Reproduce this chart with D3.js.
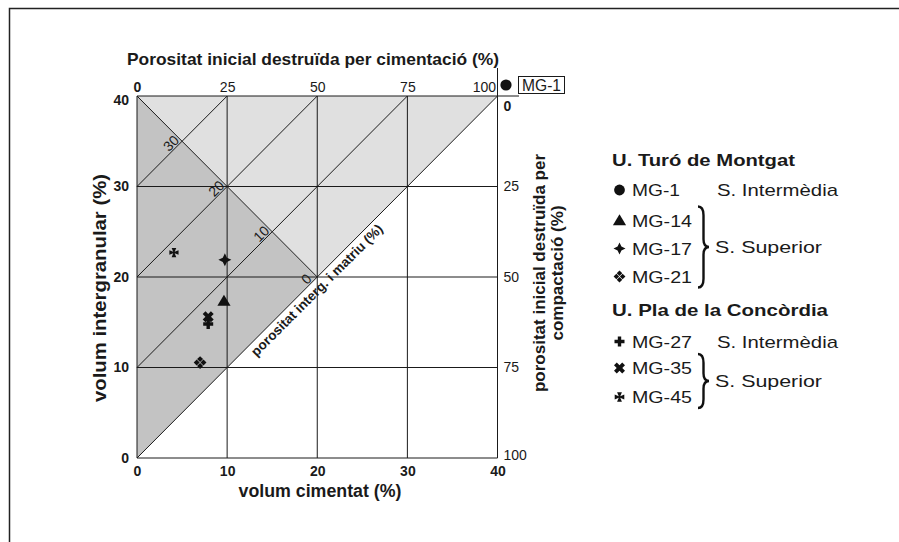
<!DOCTYPE html>
<html><head><meta charset="utf-8">
<script src="https://cdn.jsdelivr.net/npm/d3@7/dist/d3.min.js"></script>
<style>
body{margin:0;background:#fff;}
svg{display:block;font-family:"Liberation Sans",Arial,Helvetica,sans-serif;}
</style></head><body>
<svg id="chart" width="899" height="542"></svg>
<script>
// ---------- data ----------
const samples = ["MG-1", "MG-14", "MG-17", "MG-21", "MG-27", "MG-35", "MG-45"];
const shapes = ["circle", "triangle", "star4", "diamonds", "plus", "cross", "maltese"];
const cementVolume = [null, 9.65, 9.75, 7.0, 7.9, 7.9, 4.1];          // volum cimentat (%)
const intergranularVolume = [null, 17.35, 21.9, 10.55, 14.8, 15.6, 22.7]; // volum intergranular (%)
const unitNames = ["U. Turó de Montgat", "U. Pla de la Concòrdia"];
const sampleUnit = [0, 0, 0, 0, 1, 1, 1];
const subunitNames = ["S. Intermèdia", "S. Superior"];
const sampleSubunit = [0, 1, 1, 1, 0, 1, 1];
const xTicks = [0, 10, 20, 30, 40];
const yTicks = [0, 10, 20, 30, 40];
const topTicks = [0, 25, 50, 75, 100];
const rightTicks = [0, 25, 50, 75, 100];
const porosityContours = [0, 10, 20, 30];
const initialPorosity = 40;
const gridValues = [10, 20, 30];

// ---------- layout ----------
const svg = d3.select("#chart");
const x = d3.scaleLinear().domain([0, 40]).range([137, 497.5]);
const y = d3.scaleLinear().domain([0, 40]).range([458, 96]);
const xTop = d3.scaleLinear().domain([0, 100]).range([137, 497.5]);
const yRight = d3.scaleLinear().domain([0, 100]).range([96, 458]);
const ink = "#1a1a1a";

// page frame
svg.append("path").attr("d", "M9.5,542V8.5H899").attr("fill", "none").attr("stroke", "#222").attr("stroke-width", 1.5);

const line = d3.line().x(d => x(d[0])).y(d => y(d[1]));

// shaded regions
const P = initialPorosity;
svg.append("path").attr("d", line([[0, 0], [0, P], [P / 2, P / 2]]) + "Z").attr("fill", "#c3c3c3");
svg.append("path").attr("d", line([[0, P], [40, P], [P / 2, P / 2]]) + "Z").attr("fill", "#e0e0e0");

const lines = svg.append("g").attr("stroke", ink).attr("stroke-width", 1).attr("fill", "none");
gridValues.forEach(v => {
  lines.append("path").attr("d", line([[v, 0], [v, 40]]));
  lines.append("path").attr("d", line([[0, v], [40, v]]));
});
porosityContours.forEach(c => {
  lines.append("path").attr("d", line([[0, c], [40 - c, 40]]));
});
lines.append("path").attr("d", line([[0, P], [P / 2, P / 2]]));
// border with extensions
lines.append("path").attr("d", `M${x(0)},${y(0)}H${x(40)}V${y(40) - 28}`);
lines.append("path").attr("d", `M${x(0)},${y(0)}V${y(40)}H${x(40) + 21.5}`);

// ---------- axes ----------
function styleAxis(g, size, weight) {
  g.select(".domain").remove();
  g.attr("font-family", null).attr("font-size", null);
  g.selectAll("text").attr("font-size", size).attr("font-weight", weight).attr("fill", ink);
}
const gTop = svg.append("g").attr("transform", `translate(0,${y(40)})`)
  .call(d3.axisTop(xTop).tickValues(topTicks).tickSize(0).tickPadding(4))
  .call(g => styleAxis(g, 14, "normal"));
gTop.selectAll("text").filter(d => d === 100).attr("text-anchor", "end").attr("x", -2);
gTop.selectAll("text").filter(d => d === 0).attr("font-weight", "bold");

const gLeft = svg.append("g").attr("transform", `translate(${x(0)},0)`)
  .call(d3.axisLeft(y).tickValues(yTicks).tickSize(0).tickPadding(8))
  .call(g => styleAxis(g, 14, "bold"));
gLeft.selectAll("text").filter(d => d === 40).attr("dy", "0.6em");

svg.append("g").attr("transform", `translate(0,${y(0)})`)
  .call(d3.axisBottom(x).tickValues(xTicks).tickSize(0).tickPadding(8))
  .call(g => styleAxis(g, 14, "bold"));

const gRight = svg.append("g").attr("transform", `translate(${x(40)},0)`)
  .call(d3.axisRight(yRight).tickValues(rightTicks).tickSize(0).tickPadding(6))
  .call(g => styleAxis(g, 14, "normal"));
gRight.selectAll("text").filter(d => d === 0).attr("dy", "1.0em").attr("font-weight", "bold");
gRight.selectAll("text").filter(d => d === 100).attr("dy", "0.1em");

// axis titles
svg.append("text").attr("x", 127).attr("y", 65).attr("font-size", 17).attr("font-weight", "bold").attr("fill", ink)
  .attr("textLength", 372).attr("lengthAdjust", "spacingAndGlyphs")
  .text("Porositat inicial destruïda per cimentació  (%)");
svg.append("text").attr("x", 320).attr("y", 497).attr("text-anchor", "middle").attr("font-size", 17.5).attr("font-weight", "bold").attr("fill", ink)
  .attr("textLength", 163).attr("lengthAdjust", "spacingAndGlyphs")
  .text("volum cimentat (%)");
svg.append("text").attr("transform", "translate(106,288) rotate(-90)").attr("text-anchor", "middle").attr("font-size", 17.5).attr("font-weight", "bold").attr("fill", ink)
  .attr("textLength", 228).attr("lengthAdjust", "spacingAndGlyphs")
  .text("volum intergranular (%)");
const rt = svg.append("text").attr("transform", "translate(545,273) rotate(-90)").attr("text-anchor", "middle").attr("font-size", 17).attr("font-weight", "bold").attr("fill", ink);
rt.append("tspan").attr("x", 0).attr("y", 0).text("porositat inicial destruïda per");
rt.append("tspan").attr("x", 0).attr("y", 18).text("compactació  (%)");

// contour labels along x+y = 40
porosityContours.forEach(c => {
  const cx = (P - c) / 2, cy = (P + c) / 2;
  svg.append("text").attr("transform", `translate(${x(cx) - 11},${y(cy) + 2}) rotate(-45)`)
    .attr("text-anchor", "middle").attr("dominant-baseline", "central")
    .attr("font-size", 14).attr("fill", ink).text(c);
});
// diagonal label
svg.append("text").attr("transform", `translate(${x(12.2)},${y(12.2)}) rotate(-45)`)
  .attr("x", 0).attr("y", 13.5).attr("font-size", 13.5).attr("font-weight", "bold").attr("fill", ink)
  .text("porositat interg. i matriu  (%)");

// ---------- markers ----------
function markerPath(shape, s) {
  const rot = (pts, a) => pts.map(([px, py]) => [px * Math.cos(a) - py * Math.sin(a), px * Math.sin(a) + py * Math.cos(a)]);
  const poly = pts => "M" + pts.map(p => p[0].toFixed(2) + "," + p[1].toFixed(2)).join("L") + "Z";
  switch (shape) {
    case "circle": return `M${s},0A${s},${s} 0 1,1 ${-s},0A${s},${s} 0 1,1 ${s},0Z`;
    case "triangle": return poly([[0, -s * 1.05], [s * 1.1, s * 0.8], [-s * 1.1, s * 0.8]]);
    case "star4": { const k = s * 0.32; return poly([[0, -s], [k, -k], [s, 0], [k, k], [0, s], [-k, k], [-s, 0], [-k, -k]]); }
    case "diamonds": {
      const d = s * 0.5, r = s * 0.44;
      return [[0, -d], [d, 0], [0, d], [-d, 0]].map(([cx, cy]) => poly([[cx, cy - r], [cx + r, cy], [cx, cy + r], [cx - r, cy]])).join("");
    }
    case "plus": case "cross": {
      const w = s * 0.34;
      const pts = [[-w, -s], [w, -s], [w, -w], [s, -w], [s, w], [w, w], [w, s], [-w, s], [-w, w], [-s, w], [-s, -w], [-w, -w]];
      return poly(shape === "cross" ? rot(pts, Math.PI / 4) : pts);
    }
    case "maltese": {
      const a = s * 0.16, b = s * 0.5;
      return poly([[-a, -a], [-b, -s], [b, -s], [a, -a], [s, -b], [s, b], [a, a], [b, s], [-b, s], [-a, a], [-s, b], [-s, -b]]);
    }
  }
}
const chartSize = { circle: 5.5, triangle: 6, star4: 6.5, diamonds: 6.8, plus: 5, cross: 5.8, maltese: 4.6 };
const legendSize = { circle: 5.4, triangle: 6, star4: 6, diamonds: 6.3, plus: 5, cross: 5.8, maltese: 4.8 };

const pts = samples.map((s, i) => ({ name: s, shape: shapes[i], cx: cementVolume[i], cy: intergranularVolume[i] }))
  .filter(d => d.cx !== null);
svg.append("g").selectAll("path").data(pts).join("path")
  .attr("transform", d => `translate(${x(d.cx)},${y(d.cy)})`)
  .attr("d", d => markerPath(d.shape, chartSize[d.shape]))
  .attr("fill", "#111");

// MG-1 (off-scale) annotation
svg.append("path").attr("transform", "translate(506,85)").attr("d", markerPath("circle", 5.6)).attr("fill", "#111");
svg.append("rect").attr("x", 518.5).attr("y", 76.5).attr("width", 46).attr("height", 17).attr("fill", "#fff").attr("stroke", ink).attr("stroke-width", 1);
svg.append("text").attr("x", 522).attr("y", 90.5).attr("font-size", 16).attr("fill", ink).attr("textLength", 39).attr("lengthAdjust", "spacingAndGlyphs").text(samples[0]);

// ---------- legend ----------
const leg = svg.append("g");
const headerY = [166, 316];
const rowY = [196, 226.5, 254.5, 282.5, 347.5, 374, 403];
unitNames.forEach((u, i) => {
  leg.append("text").attr("x", 612).attr("y", headerY[i]).attr("font-size", 17).attr("font-weight", "bold").attr("fill", ink)
    .attr("textLength", i === 0 ? 183 : 216).attr("lengthAdjust", "spacingAndGlyphs").text(u);
});
samples.forEach((s, i) => {
  leg.append("path").attr("transform", `translate(619.5,${rowY[i] - 6})`).attr("d", markerPath(shapes[i], legendSize[shapes[i]])).attr("fill", "#111");
  leg.append("text").attr("x", 632).attr("y", rowY[i]).attr("font-size", 17).attr("fill", ink)
    .attr("textLength", s.length === 4 ? 48 : 60).attr("lengthAdjust", "spacingAndGlyphs").text(s);
});
function brace(x0, y0, y1, w) {
  const xm = x0 + w * 0.5, tip = x0 + w, ym = (y0 + y1) / 2, r = w * 0.5;
  return `M${x0},${y0}Q${xm},${y0} ${xm},${y0 + r * 1.6}L${xm},${ym - r * 1.4}Q${xm},${ym} ${tip},${ym}Q${xm},${ym} ${xm},${ym + r * 1.4}L${xm},${y1 - r * 1.6}Q${xm},${y1} ${x0},${y1}`;
}
unitNames.forEach((u, ui) => {
  subunitNames.forEach((sn, si) => {
    const idx = samples.map((_, i) => i).filter(i => sampleUnit[i] === ui && sampleSubunit[i] === si);
    if (!idx.length) return;
    const first = rowY[idx[0]], last = rowY[idx[idx.length - 1]];
    if (idx.length === 1) {
      leg.append("text").attr("x", 717).attr("y", first).attr("font-size", 17).attr("fill", ink)
        .attr("textLength", 121).attr("lengthAdjust", "spacingAndGlyphs").text(sn);
    } else {
      const y0 = first - 20, y1 = last + 5, ym = (y0 + y1) / 2;
      leg.append("path").attr("d", brace(698, y0, y1, 11)).attr("fill", "none").attr("stroke", "#111").attr("stroke-width", 2.4);
      leg.append("text").attr("x", 715).attr("y", ym + 6).attr("font-size", 17).attr("fill", ink)
        .attr("textLength", 107).attr("lengthAdjust", "spacingAndGlyphs").text(sn);
    }
  });
});
</script>
</body></html>
